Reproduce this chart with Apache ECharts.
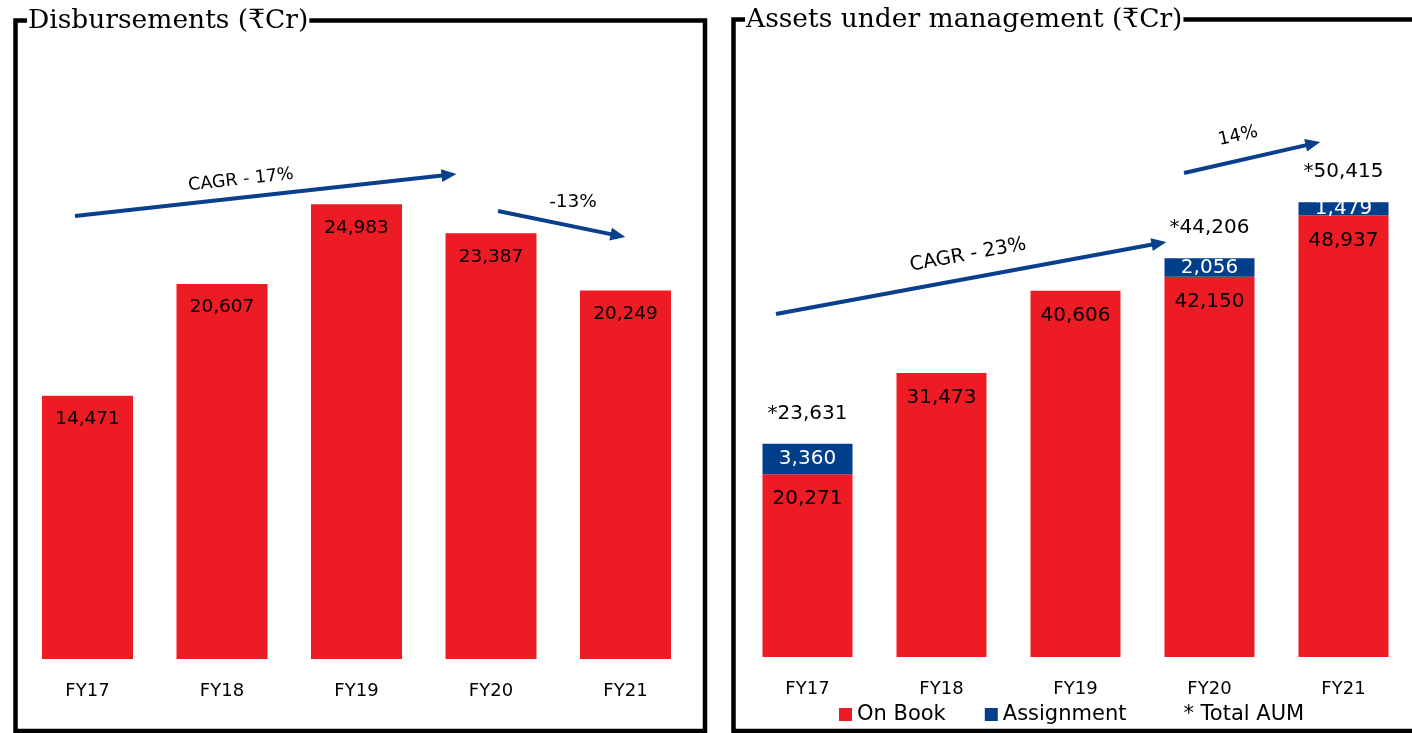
<!DOCTYPE html>
<html>
<head>
<meta charset="utf-8">
<script src="https://cdn.jsdelivr.net/npm/echarts@6/dist/echarts.min.js"></script>
<style>
  html, body { margin: 0; padding: 0; background: #fff; }
  #chart { width: 1412px; height: 733px; }
</style>
</head>
<body>
<div id="chart"></div>
<script>
// ---- data ----
const categories = ['FY17', 'FY18', 'FY19', 'FY20', 'FY21'];
const disbursements = [14471, 20607, 24983, 23387, 20249];
const onBook = [20271, 31473, 40606, 42150, 48937];
const assignment = [3360, null, null, 2056, 1479];
const totalAum = [23631, null, null, 44206, 50415];

// growth annotations, in data units (x = category index, y = value)
const disbArrows = [[[-0.093, 24341], [2.688, 26604]], [[3.052, 24615], [3.944, 23264]]];
const disbNotes = [['CAGR - 17%', 1.141, 26319], ['-13%', 3.61, 25110]];
const aumArrows = [[[-0.235, 38027], [2.623, 45865]], [[2.81, 53659], [3.772, 56918]]];
const aumNotes = [['CAGR - 23%', 1.198, 44568], ['14%', 3.213, 57761]];

const RED = '#ED1C24';
const BLUE = '#023F8B';
const ARROW = '#0A3F8C';
const SANS = 'DejaVu Sans';
const TXT = '#000';
const fmt = v => Number(v).toLocaleString('en-US');

const noteRot = { 'CAGR - 17%': 6.3, '-13%': 0, 'CAGR - 23%': 10.5, '14%': 12.5 };
const noteSize = { 'CAGR - 17%': 17.5, '-13%': 18.5, 'CAGR - 23%': 19.5, '14%': 18 };

function notesSeries(notes, arrows, xIdx, yIdx) {
  return {
    type: 'scatter',
    xAxisIndex: xIdx,
    yAxisIndex: yIdx,
    symbolSize: 0,
    silent: true,
    itemStyle: { opacity: 1 },
    data: notes.map(n => ({
      name: n[0],
      value: [n[1], n[2]],
      label: { rotate: noteRot[n[0]], fontSize: noteSize[n[0]] }
    })),
    label: {
      show: true,
      position: 'inside',
      formatter: '{b}',
      color: TXT,
      opacity: 1,
      fontFamily: SANS
    },
    markLine: {
      silent: true,
      symbol: ['none', 'triangle'],
      symbolSize: [13, 15],
      label: { show: false },
      lineStyle: { color: ARROW, width: 4, type: 'solid', opacity: 1 },
      emphasis: { disabled: true },
      data: arrows.map(a => [{ coord: a[0] }, { coord: a[1] }])
    }
  };
}

const chart = echarts.init(document.getElementById('chart'), null, { renderer: 'canvas' });

const catAxisLabel = {
  color: TXT,
  fontFamily: SANS,
  fontSize: 18,
  margin: 23
};

chart.setOption({
  animation: false,
  backgroundColor: '#fff',
  title: [
    {
      text: 'Disbursements (₹Cr)',
      left: 27, top: 8,
      padding: [0, 1],
      backgroundColor: '#fff',
      z: 10,
      textStyle: { fontFamily: 'DejaVu Serif', fontSize: 26.5, fontWeight: 'normal', color: '#000' }
    },
    {
      text: 'Assets under management (₹Cr)',
      left: 745, top: 7,
      padding: [0, 1],
      backgroundColor: '#fff',
      z: 10,
      textStyle: { fontFamily: 'DejaVu Serif', fontSize: 26.5, fontWeight: 'normal', color: '#000' }
    }
  ],
  graphic: [
    { type: 'rect', z: 0, shape: { x: 15.5, y: 20.5, width: 689.5, height: 710.5 },
      style: { fill: 'none', stroke: '#000', lineWidth: 4.5 } },
    { type: 'rect', z: 0, shape: { x: 733.5, y: 19.5, width: 700, height: 711.5 },
      style: { fill: 'none', stroke: '#000', lineWidth: 4.5 } }
  ],
  legend: {
    data: ['On Book', 'Assignment', { name: '* Total AUM', itemStyle: { opacity: 0 } }],
    left: 839, top: 704,
    padding: 0,
    icon: 'rect',
    itemWidth: 13, itemHeight: 13,
    itemGap: 39,
    selectedMode: false,
    textStyle: { fontFamily: SANS, fontSize: 21, color: TXT }
  },
  grid: [
    { left: 20.25, width: 672.5, top: 22, height: 637 },
    { left: 740.5, width: 670, top: 115.8, height: 541.2 }
  ],
  xAxis: [
    { type: 'category', gridIndex: 0, data: categories, axisLine: { show: false }, axisTick: { show: false }, axisLabel: catAxisLabel },
    { type: 'category', gridIndex: 1, data: categories, axisLine: { show: false }, axisTick: { show: false }, axisLabel: catAxisLabel },
    { type: 'value', gridIndex: 0, min: -0.5, max: 4.5, show: false },
    { type: 'value', gridIndex: 1, min: -0.5, max: 4.5, show: false }
  ],
  yAxis: [
    { type: 'value', gridIndex: 0, min: 0, max: 35000, show: false },
    { type: 'value', gridIndex: 1, min: 0, max: 60000, show: false }
  ],
  series: [
    {
      name: 'Disbursements',
      type: 'bar',
      xAxisIndex: 0, yAxisIndex: 0,
      barWidth: 91,
      data: disbursements,
      itemStyle: { color: RED },
      label: {
        show: true, position: 'insideTop', distance: 14,
        color: TXT, fontFamily: SANS, fontSize: 18.5,
        formatter: p => fmt(p.value)
      }
    },
    {
      name: 'On Book',
      type: 'bar',
      xAxisIndex: 1, yAxisIndex: 1,
      stack: 'aum',
      barWidth: 90,
      data: onBook,
      itemStyle: { color: RED },
      label: {
        show: true, position: 'insideTop', distance: 15,
        color: TXT, fontFamily: SANS, fontSize: 20,
        formatter: p => fmt(p.value)
      }
    },
    {
      name: 'Assignment',
      type: 'bar',
      xAxisIndex: 1, yAxisIndex: 1,
      stack: 'aum',
      barWidth: 90,
      data: assignment,
      itemStyle: { color: BLUE },
      label: {
        show: true, position: 'inside',
        color: '#fff', fontFamily: SANS, fontSize: 20,
        formatter: p => p.value == null ? '' : fmt(p.value)
      }
    },
    {
      name: '* Total AUM',
      type: 'scatter',
      xAxisIndex: 1, yAxisIndex: 1,
      symbolSize: 0,
      silent: true,
      data: totalAum,
      itemStyle: { color: '#000', opacity: 1 },
      label: {
        show: true, position: 'top', distance: 20,
        color: TXT, opacity: 1, fontFamily: SANS, fontSize: 20,
        formatter: p => '*' + fmt(p.value)
      }
    },
    notesSeries(disbNotes, disbArrows, 2, 0),
    notesSeries(aumNotes, aumArrows, 3, 1)
  ]
});
</script>
</body>
</html>
